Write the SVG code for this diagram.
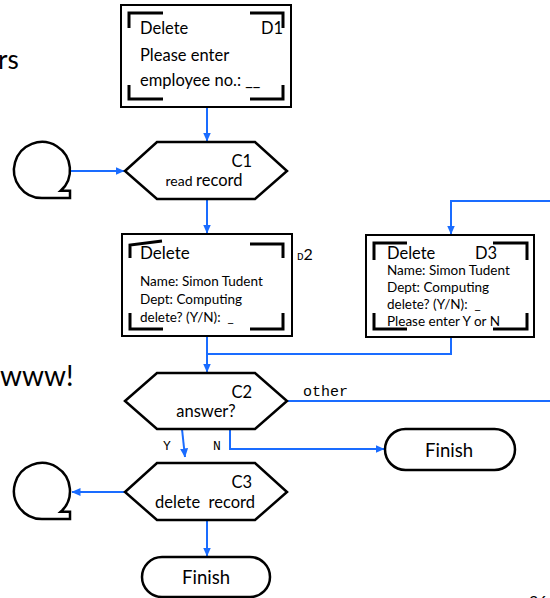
<svg xmlns="http://www.w3.org/2000/svg" width="550" height="598" viewBox="0 0 550 598">
  <style>
    .box { fill: #fff; stroke: #000; stroke-width: 2; }
    .brk { fill: none; stroke: #000; stroke-width: 3; }
    .hex { fill: #fff; stroke: #000; stroke-width: 2.5; stroke-linejoin: miter; }
    .term { fill: #fff; stroke: #000; stroke-width: 2.5; }
    .conn { fill: none; stroke: #1a6cff; stroke-width: 2; }
    .t { font-family: Lato, "Liberation Sans", sans-serif; fill: #000; }
    .m { font-family: "Liberation Mono", monospace; fill: #000; }
    .bg { font-family: Lato, "Liberation Sans", sans-serif; fill: #000; }
  </style>
  <defs>
    <marker id="ah" markerWidth="9" markerHeight="8" refX="8.5" refY="4" orient="auto" markerUnits="userSpaceOnUse">
      <path d="M0,0 L9,4 L0,8 Z" fill="#1a6cff"/>
    </marker>
  </defs>

  <!-- background slide fragments -->
  <text class="bg" x="-2" y="69" font-size="26">rs</text>
  <text class="bg" x="0" y="386" font-size="28">www!</text>
  <text class="t" x="529" y="607" font-size="16" fill="#666">26</text>

  <!-- connectors -->
  <g id="connectors">
    <path class="conn" d="M207,107 V141" marker-end="url(#ah)"/>
    <path class="conn" d="M71,171 H124" marker-end="url(#ah)"/>
    <path class="conn" d="M207,199 V233" marker-end="url(#ah)"/>
    <path class="conn" d="M550,201 H451 V234" marker-end="url(#ah)"/>
    <path class="conn" d="M451,337 V354 H207"/>
    <path class="conn" d="M207,336 V372" marker-end="url(#ah)"/>
    <path class="conn" d="M287,401 H550"/>
    <path class="conn" d="M182,429 L185,457" marker-end="url(#ah)"/>
    <path class="conn" d="M230,429 V449 H384" marker-end="url(#ah)"/>
    <path class="conn" d="M125,492 H72" marker-end="url(#ah)"/>
    <path class="conn" d="M207,520 V556" marker-end="url(#ah)"/>
    <text class="m" x="303" y="396" font-size="15">other</text>
    <text class="m" x="163" y="450" font-size="13">Y</text>
    <text class="m" x="213" y="450" font-size="13">N</text>
  </g>

  <!-- screen D1 -->
  <g id="D1">
    <rect class="box" x="121" y="5" width="170" height="102"/>
    <path class="brk" d="M129,28 V13 H163 M250,13 H283 V28 M129,85 V99 H163 M250,99 H283 V85"/>
    <text class="t" x="140" y="34" font-size="16.5">Delete</text>
    <text class="t" x="283" y="34" font-size="16.5" text-anchor="end">D1</text>
    <text class="t" x="140" y="61" font-size="16.5">Please enter</text>
    <text class="t" x="140" y="86" font-size="16.5">employee no.: __</text>
  </g>

  <!-- off-page connector, left of C1 -->
  <g id="conn1">
    <path class="term" d="M42,198 A28,28 0 1 1 60.7,190.8 L70,190.8 L70,198 Z"/>
  </g>

  <!-- process C1 -->
  <g id="C1">
    <polygon class="hex" points="125,171 157,142 255,142 287,171 255,199 157,199"/>
    <text class="t" x="252" y="167" font-size="16.5" text-anchor="end">C1</text>
    <text class="t" x="204" y="186" text-anchor="middle"><tspan font-size="14">read </tspan><tspan font-size="16.5">record</tspan></text>
  </g>

  <!-- screen D2 -->
  <g id="D2">
    <rect class="box" x="122" y="234" width="170" height="102"/>
    <path class="brk" d="M130,258 V245 L162,241 M250,244 H283 V258 M130,313 V329 H163 M250,329 H283 V313"/>
    <text class="t" x="140" y="259" font-size="17">Delete</text>
    <text class="t" x="140" y="286" font-size="13.5">Name: Simon Tudent</text>
    <text class="t" x="140" y="304" font-size="13.5">Dept: Computing</text>
    <text class="t" x="140" y="322" font-size="13.5" xml:space="preserve">delete? (Y/N):  _</text>
    <text x="297" y="260"><tspan class="m" font-size="11">D</tspan><tspan class="t" font-size="16">2</tspan></text>
  </g>

  <!-- screen D3 -->
  <g id="D3">
    <rect class="box" x="366" y="235" width="168" height="102"/>
    <path class="brk" d="M374,260 V243 H407 M493,243 H527 V260 M374,313 V329 H407 M493,329 H527 V313"/>
    <text class="t" x="387" y="259" font-size="16.5">Delete</text>
    <text class="t" x="475" y="259" font-size="16.5">D3</text>
    <text class="t" x="387" y="275" font-size="13.5">Name: Simon Tudent</text>
    <text class="t" x="387" y="292" font-size="13.5">Dept: Computing</text>
    <text class="t" x="387" y="309" font-size="13.5" xml:space="preserve">delete? (Y/N):  _</text>
    <text class="t" x="387" y="326" font-size="13.5">Please enter Y or N</text>
  </g>

  <!-- decision C2 -->
  <g id="C2">
    <polygon class="hex" points="125,401 157,373 255,373 287,401 255,429 157,429"/>
    <text class="t" x="252" y="398" font-size="16.5" text-anchor="end">C2</text>
    <text class="t" x="206" y="417" font-size="16.5" text-anchor="middle">answer?</text>
  </g>

  <!-- terminator after N -->
  <g id="finishN">
    <rect class="term" x="385" y="429" width="130" height="41" rx="20.5"/>
    <text class="t" x="449" y="457" font-size="18.5" text-anchor="middle">Finish</text>
  </g>

  <!-- process C3 -->
  <g id="C3">
    <polygon class="hex" points="125,492 157,463 255,463 287,492 255,520 157,520"/>
    <text class="t" x="252" y="488" font-size="16.5" text-anchor="end">C3</text>
    <text class="t" x="205" y="508" font-size="16.5" text-anchor="middle" xml:space="preserve">delete  record</text>
  </g>

  <!-- off-page connector, left of C3 -->
  <g id="conn2">
    <path class="term" d="M42,519 A28,28 0 1 1 60.7,511.8 L70,511.8 L70,519 Z"/>
  </g>

  <!-- terminator after C3 -->
  <g id="finishC3">
    <rect class="term" x="142" y="557" width="128" height="40" rx="20"/>
    <text class="t" x="206" y="584" font-size="18.5" text-anchor="middle">Finish</text>
  </g>
</svg>
